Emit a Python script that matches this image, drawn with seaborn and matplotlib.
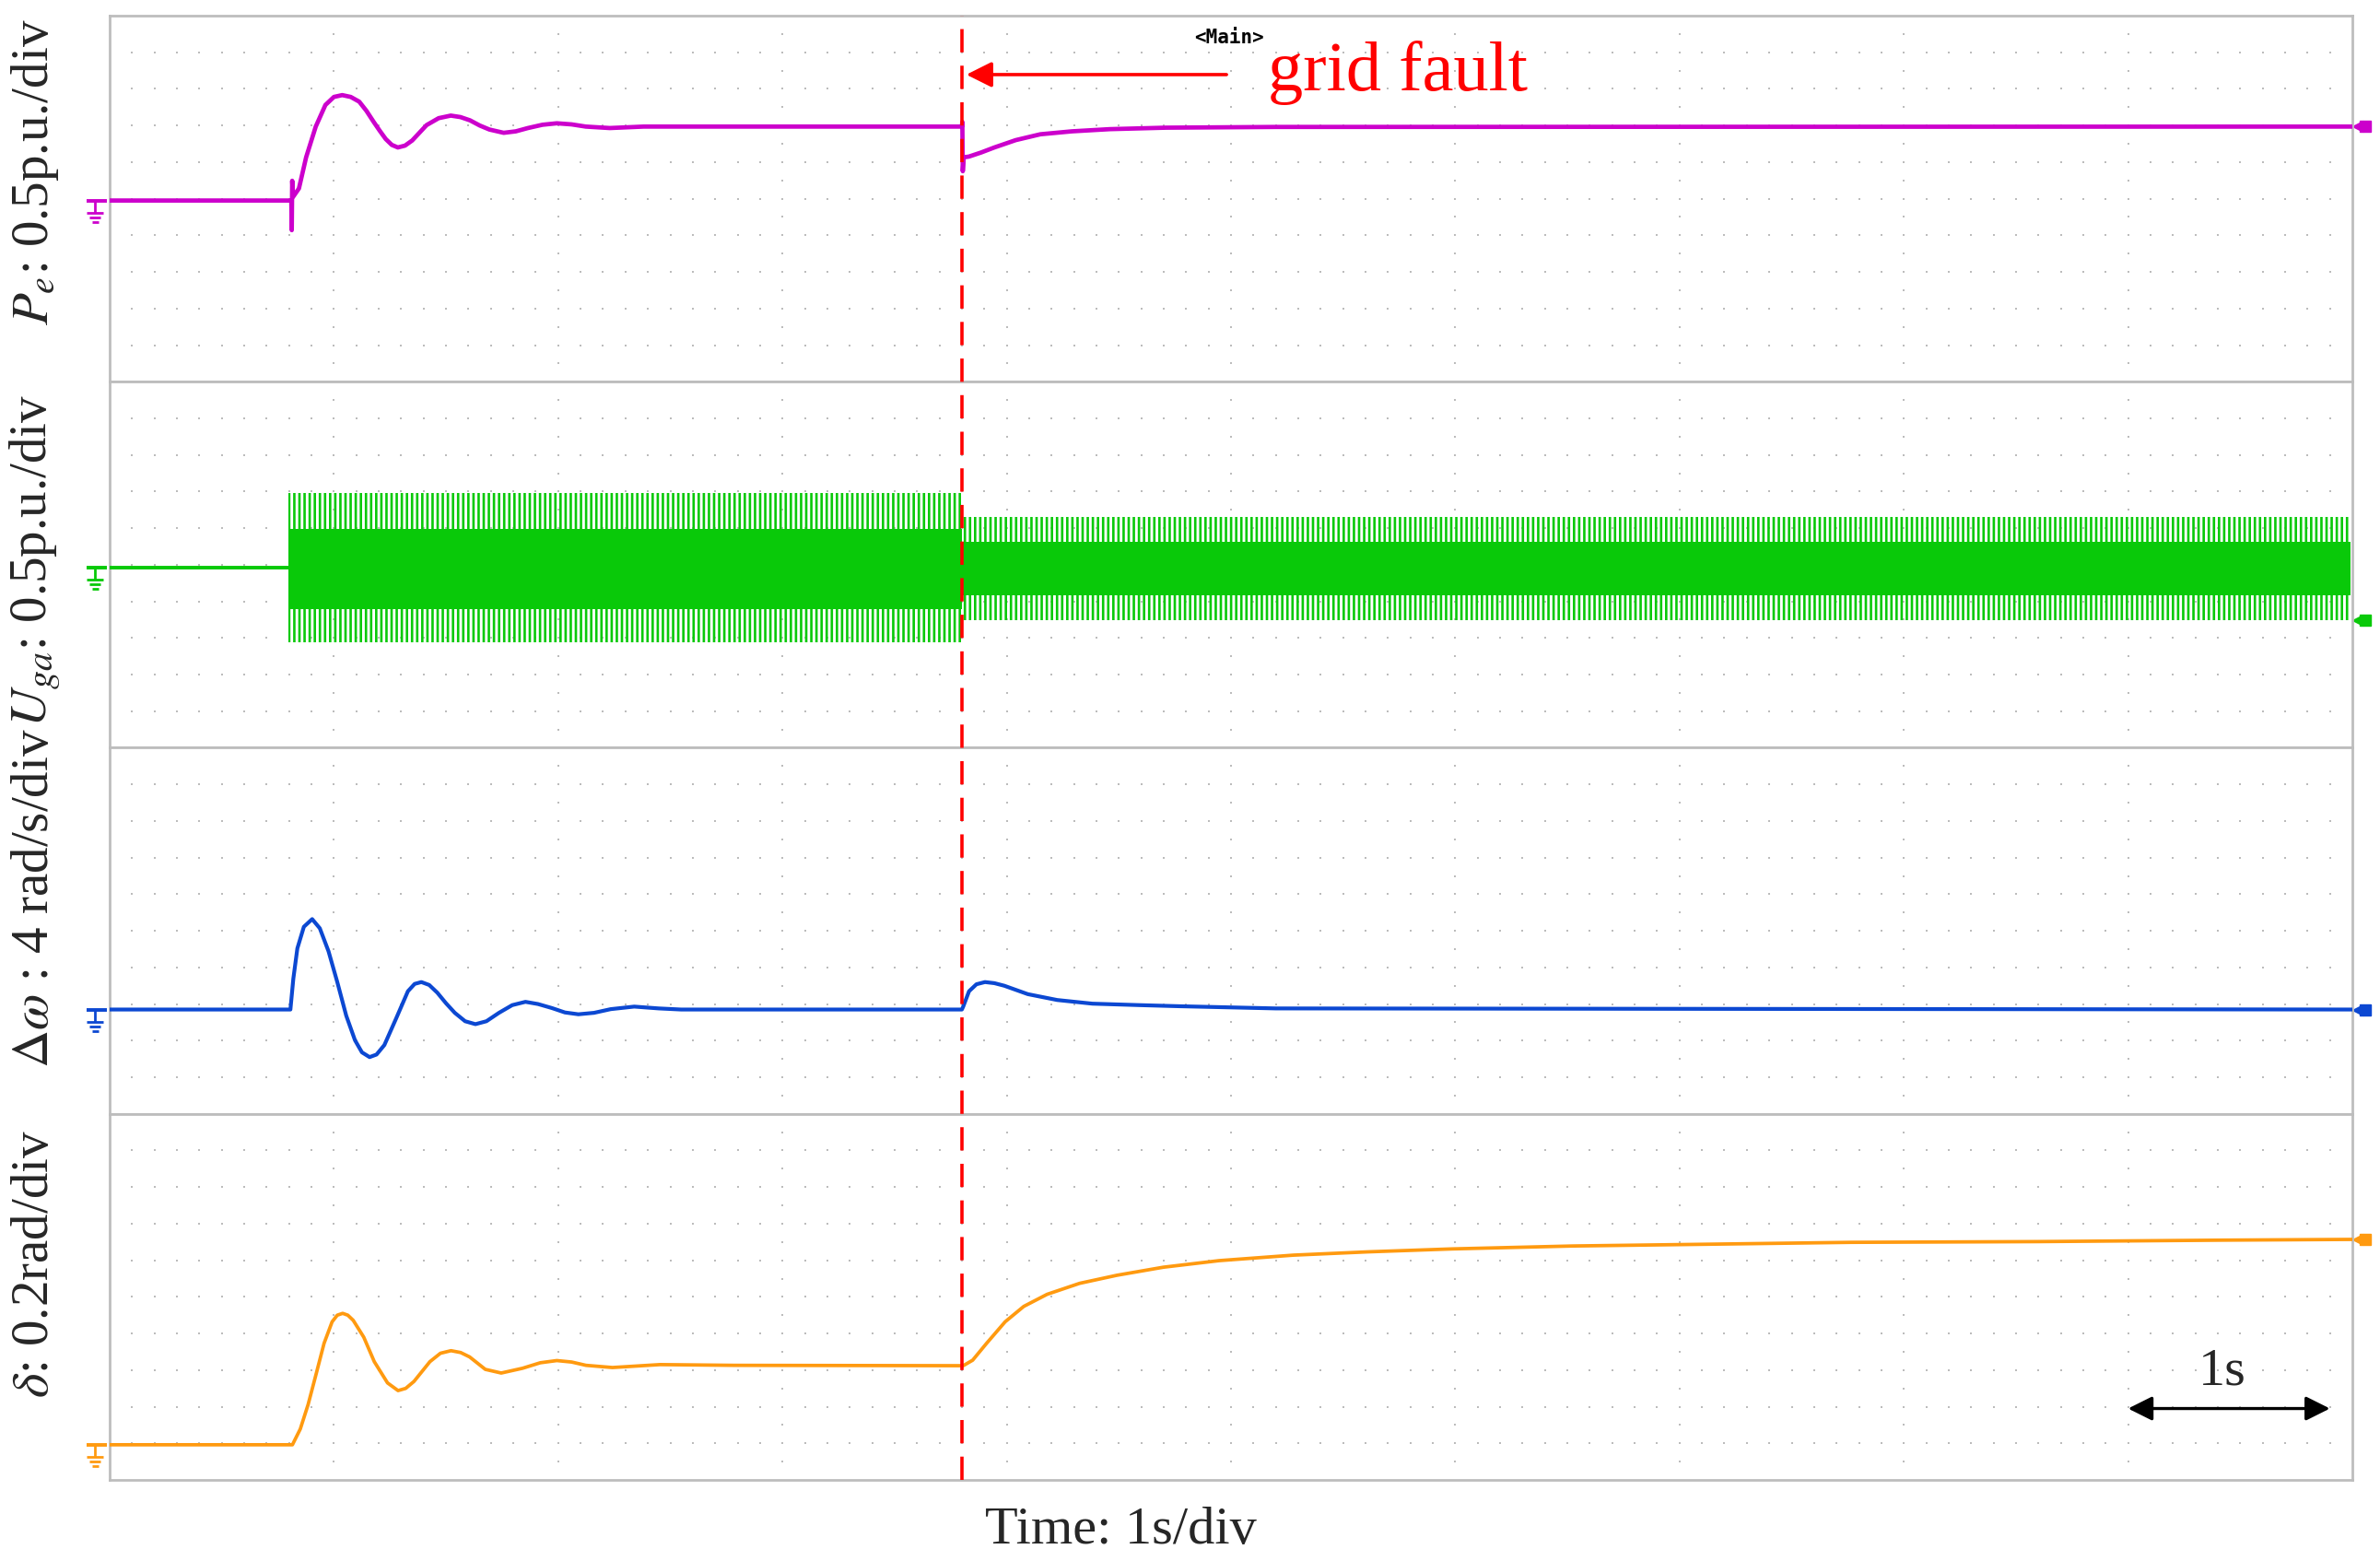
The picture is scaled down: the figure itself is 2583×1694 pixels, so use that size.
import numpy as np
import pandas as pd
import seaborn as sns
import matplotlib.pyplot as plt
from matplotlib.transforms import blended_transform_factory

# all traces: time in s, level in divisions (0 = bottom of the zone, 10 = top)
FAULT_T = 3.80

# electrical power Pe
pe_t = [0.0, 0.810, 0.812, 0.814, 0.818, 0.844, 0.876, 0.919, 0.962, 1.000, 1.037, 1.075,
        1.113, 1.145, 1.177, 1.205, 1.231, 1.258, 1.285, 1.317, 1.349, 1.381, 1.413, 1.467,
        1.521, 1.564, 1.607, 1.650, 1.693, 1.757, 1.811, 1.865, 1.930, 1.994, 2.060, 2.123,
        2.230, 2.381, 3.800, 3.802, 3.804, 3.808, 3.831, 3.885, 3.945, 4.040, 4.150, 4.290,
        4.460, 4.710, 5.200, 10.0]
pe_v = [4.95, 4.95, 4.14, 5.49, 5.05, 5.28, 6.13, 6.97, 7.56, 7.78, 7.83, 7.78,
        7.65, 7.40, 7.10, 6.85, 6.63, 6.47, 6.40, 6.45, 6.59, 6.80, 7.01, 7.20,
        7.27, 7.23, 7.14, 7.00, 6.89, 6.80, 6.84, 6.93, 7.02, 7.06, 7.03, 6.97,
        6.93, 6.97, 6.97, 7.10, 5.75, 6.13, 6.15, 6.26, 6.40, 6.60, 6.76, 6.84,
        6.90, 6.94, 6.96, 6.97]

# grid voltage Uga (envelope of the 50 Hz waveform)
uga_base = 4.91
uga_t = [0.797, 3.80, 3.80, 9.99]
uga_core_hi = [5.97, 5.97, 5.62, 5.62]
uga_core_lo = [3.78, 3.78, 4.16, 4.16]
uga_peak_hi = [6.95, 6.95, 6.30, 6.30]
uga_peak_lo = [2.87, 2.87, 3.48, 3.48]

# speed deviation
dw_t = [0.0, 0.806, 0.819, 0.837, 0.866, 0.903, 0.937, 0.976, 1.015, 1.055, 1.094, 1.125,
        1.159, 1.190, 1.225, 1.277, 1.330, 1.360, 1.390, 1.425, 1.461, 1.500, 1.539, 1.585,
        1.631, 1.680, 1.736, 1.795, 1.854, 1.910, 1.972, 2.030, 2.090, 2.160, 2.234, 2.339,
        2.448, 2.548, 3.800, 3.806, 3.832, 3.865, 3.903, 3.945, 3.989, 4.094, 4.225, 4.382,
        4.592, 4.770, 5.200, 10.0]
dw_v = [2.85, 2.85, 3.69, 4.52, 5.11, 5.32, 5.07, 4.44, 3.60, 2.68, 2.01, 1.68,
        1.55, 1.62, 1.88, 2.60, 3.35, 3.55, 3.60, 3.52, 3.31, 3.02, 2.76, 2.53,
        2.45, 2.53, 2.76, 2.97, 3.06, 3.00, 2.89, 2.77, 2.72, 2.76, 2.86, 2.93,
        2.88, 2.85, 2.85, 2.93, 3.35, 3.54, 3.60, 3.57, 3.50, 3.27, 3.11, 3.01,
        2.97, 2.94, 2.88, 2.85]

# power angle
dl_t = [0.0, 0.815, 0.850, 0.885, 0.921, 0.956, 0.992, 1.015, 1.039, 1.062, 1.086, 1.133,
        1.180, 1.239, 1.286, 1.320, 1.357, 1.428, 1.475, 1.522, 1.565, 1.605, 1.675, 1.746,
        1.841, 1.920, 1.994, 2.060, 2.124, 2.242, 2.454, 2.784, 3.806, 3.848, 3.910, 3.993,
        4.076, 4.180, 4.325, 4.491, 4.698, 4.947, 5.278, 5.610, 5.984, 6.523, 7.145, 7.767,
        8.597, 9.426, 10.0]
dl_v = [0.96, 0.96, 1.39, 2.06, 2.90, 3.73, 4.32, 4.50, 4.55, 4.50, 4.36, 3.90,
        3.23, 2.65, 2.44, 2.50, 2.69, 3.23, 3.46, 3.53, 3.48, 3.36, 3.02, 2.92,
        3.05, 3.20, 3.26, 3.22, 3.13, 3.07, 3.15, 3.13, 3.12, 3.27, 3.73, 4.32,
        4.74, 5.07, 5.37, 5.59, 5.81, 5.99, 6.14, 6.23, 6.31, 6.39, 6.44, 6.49,
        6.51, 6.55, 6.57]

labels = [r'$P_e$: 0.5p.u./div', r'$U_{ga}$: 0.5p.u./div',
          r'$\Delta\omega$ : 4 rad/s/div', r'$\delta$: 0.2rad/div']
label_centers = [187, 608, 975, 1371]

MAGENTA = '#cc00cc'
GREEN = '#09c909'
BLUE = '#0c48d2'
ORANGE = '#ff9a10'
GRID = '#bcbcbc'

sns.set_theme(style='white')
plt.rcParams['font.family'] = ['Liberation Serif', 'DejaVu Serif']
plt.rcParams['mathtext.fontset'] = 'stix'
plt.rcParams['hatch.linewidth'] = 1.9
plt.rcParams['hatch.color'] = GREEN

W, H = 2583, 1694
fig = plt.figure(figsize=(W / 100, H / 100), dpi=100)
left, right, top, bottom = 119, 2553, 17, 1606
ph = (bottom - top) / 4
sx = 1 / (right - left)
sy = 10 / ph

axes = []
for k in range(4):
    ax = fig.add_axes([left / W, 1 - (top + (k + 1) * ph) / H, (right - left) / W, ph / H])
    ax.set_xlim(0, 10)
    ax.set_ylim(0, 10)
    ax.set_xticks([])
    ax.set_yticks([])
    for s in ax.spines.values():
        s.set_color('#bdbdbd')
        s.set_linewidth(2)
    # dotted graticule
    gx, gy = np.meshgrid(np.arange(0.1, 10, 0.1), np.arange(1, 10))
    ax.scatter(gx.ravel(), gy.ravel(), s=4.5, marker='s', color=GRID, linewidths=0, zorder=1)
    vx, vy = np.meshgrid(np.arange(1, 10), np.arange(0.5, 10, 0.5))
    ax.scatter(vx.ravel(), vy.ravel(), s=4.5, marker='s', color=GRID, linewidths=0, zorder=1)
    axes.append(ax)


def ground(ax, y, color):
    tr = blended_transform_factory(ax.transAxes, ax.transData)
    kw = dict(transform=tr, clip_on=False, color=color, solid_capstyle='butt')
    ax.plot([-25 * sx, -3 * sx], [y, y], lw=2.8, **kw)
    ax.plot([-16 * sx, -16 * sx], [y, y - 13 * sy], lw=2.0, **kw)
    for dy, hw in [(13, 9), (18, 6), (23, 3.5)]:
        ax.plot([(-16 - hw) * sx, (-16 + hw) * sx], [y - dy * sy] * 2, lw=2.0, **kw)


def end_marker(ax, y, color):
    tr = blended_transform_factory(ax.transAxes, ax.transData)
    ax.plot([1 + 6 * sx], [y], marker='<', ms=8, color=color, transform=tr, clip_on=False)
    ax.plot([1 + 14 * sx], [y], marker='s', ms=8.5, color=color, transform=tr, clip_on=False)


# Pe
sns.lineplot(x=pe_t, y=pe_v, ax=axes[0], color=MAGENTA, lw=3.4, estimator=None, sort=False, zorder=3)
ground(axes[0], pe_v[0], MAGENTA)
end_marker(axes[0], pe_v[-1], MAGENTA)

# Uga
sns.lineplot(x=[0.0, uga_t[0]], y=[uga_base, uga_base], ax=axes[1], color=GREEN, lw=2.8,
             estimator=None, sort=False, zorder=3)
axes[1].fill_between(uga_t, uga_peak_lo, uga_peak_hi, facecolor='none', edgecolor=GREEN,
                     hatch='|||', linewidth=0, zorder=2)
axes[1].fill_between(uga_t, uga_core_lo, uga_core_hi, color=GREEN, linewidth=0, zorder=3)
ground(axes[1], uga_base, GREEN)
end_marker(axes[1], uga_peak_lo[-1], GREEN)

# delta omega
sns.lineplot(x=dw_t, y=dw_v, ax=axes[2], color=BLUE, lw=3.0, estimator=None, sort=False, zorder=3)
ground(axes[2], dw_v[0], BLUE)
end_marker(axes[2], dw_v[-1], BLUE)

# delta
sns.lineplot(x=dl_t, y=dl_v, ax=axes[3], color=ORANGE, lw=2.7, estimator=None, sort=False, zorder=3)
ground(axes[3], dl_v[0], ORANGE)
end_marker(axes[3], dl_v[-1], ORANGE)

for ax in axes:
    ax.set(xlabel='', ylabel='')

# fault instant across all zones
ov = fig.add_axes([left / W, 1 - bottom / H, (right - left) / W, (bottom - top) / H])
ov.set_xlim(0, 10)
ov.set_ylim(0, 1)
ov.axis('off')
ov.axvline(FAULT_T, color='red', lw=2.6, linestyle=(0, (7, 4)), zorder=5)

axes[0].annotate('', xy=(FAULT_T + 0.02, 8.39), xytext=(4.98, 8.39),
                 arrowprops=dict(arrowstyle='-|>', color='red', lw=2.6, mutation_scale=42,
                                 shrinkA=0, shrinkB=0))
axes[0].text(5.165, 7.96, 'grid fault', color='red', fontsize=55, ha='left', va='baseline')
axes[0].text(4.99, 9.40, '<Main>', color='black', fontsize=15, family='DejaVu Sans Mono',
             weight='bold', ha='center', va='center')

axes[3].annotate('', xy=(9.0, 1.95), xytext=(9.9, 1.95),
                 arrowprops=dict(arrowstyle='<|-|>', color='black', lw=2.4, mutation_scale=40,
                                 shrinkA=0, shrinkB=0))
axes[3].text(9.42, 2.61, '1s', fontsize=42, ha='center', va='baseline')

for lab, yc in zip(labels, label_centers):
    fig.text(38 / W, 1 - yc / H, lab, rotation=90, ha='center', va='center', fontsize=41)

fig.text(1216 / W, 1 - 1675 / H, 'Time: 1s/div', ha='center', va='baseline', fontsize=42)

fig.savefig('out.png', dpi=100)
